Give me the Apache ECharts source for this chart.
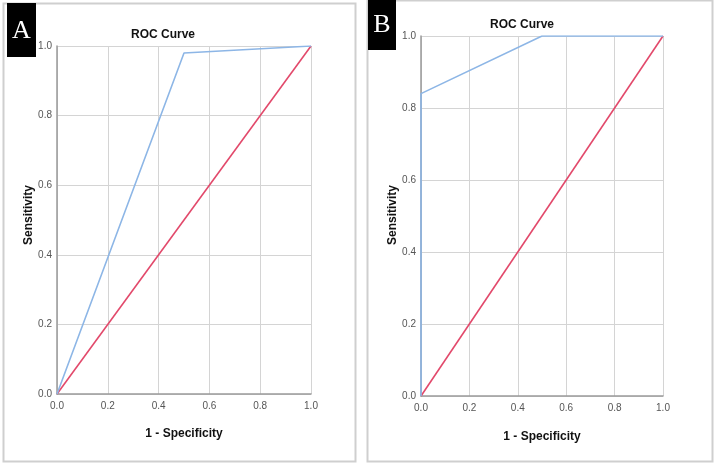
<!DOCTYPE html>
<html><head><meta charset="utf-8">
<script src="https://cdn.jsdelivr.net/npm/echarts@6/dist/echarts.min.js"></script>
<style>html,body{margin:0;padding:0;background:#fff}#c{width:715px;height:466px}</style>
</head><body><div id="c"></div>
<script>
const ticks = [0, 0.2, 0.4, 0.6, 0.8, 1.0];
const fprA = [0, 0.5, 1];
const tprA = [0, 0.98, 1];
const fprB = [0, 0, 0.5, 1];
const tprB = [0, 0.84, 1, 1];
const refX = [0, 1];
const refY = [0, 1];
const titleText = 'ROC Curve';
const xName = '1 - Specificity';
const yName = 'Sensitivity';
const panelLabels = ['A', 'B'];

const zip = (a, b) => a.map((v, i) => [v, b[i]]);
const chart = echarts.init(document.getElementById('c'), null, {renderer: 'canvas'});

function xAx(gi) {
  return {type: 'value', gridIndex: gi, min: 0, max: 1, interval: 0.2,
    axisLine: {show: true, lineStyle: {color: '#9a9a9a', width: 1.5}},
    axisTick: {show: false},
    axisLabel: {color: '#555', fontSize: 10, fontFamily: 'Liberation Sans', margin: 7, formatter: v => v.toFixed(1)},
    splitLine: {show: true, lineStyle: {color: '#d4d4d4', width: 1}}};
}
function yAx(gi) {
  return {type: 'value', gridIndex: gi, min: 0, max: 1, interval: 0.2,
    axisLine: {show: true, lineStyle: {color: '#9a9a9a', width: 1.5}},
    axisTick: {show: false},
    axisLabel: {color: '#555', fontSize: 10, fontFamily: 'Liberation Sans', margin: 5, formatter: v => v.toFixed(1)},
    splitLine: {show: true, lineStyle: {color: '#d4d4d4', width: 1}}};
}
const blue = '#8db6e6', red = '#e2496b';
function line(gi, data, color) {
  return {type: 'line', xAxisIndex: gi, yAxisIndex: gi, data, symbol: 'none', silent: true,
    lineStyle: {color, width: 1.6}, animation: false};
}
const bold = {fontFamily: 'Liberation Sans', fontWeight: 'bold', fontSize: 12, fill: '#111'};

chart.setOption({
  animation: false,
  grid: [
    {left: 57, top: 46, width: 254, height: 348},
    {left: 421, top: 36, width: 242, height: 360}
  ],
  xAxis: [xAx(0), xAx(1)],
  yAxis: [yAx(0), yAx(1)],
  series: [
    line(0, zip(refX, refY), red),
    line(0, zip(fprA, tprA), blue),
    line(1, zip(refX, refY), red),
    line(1, zip(fprB, tprB), blue)
  ],
  graphic: [
    {type: 'rect', z: -10, shape: {x: 3.5, y: 3.5, width: 352, height: 458}, style: {fill: '#fff', stroke: '#cfcfcf', lineWidth: 2}},
    {type: 'rect', z: -10, shape: {x: 367.5, y: 0.5, width: 345, height: 461}, style: {fill: '#fff', stroke: '#cfcfcf', lineWidth: 2}},
    {type: 'rect', shape: {x: 7, y: 3, width: 29, height: 54}, style: {fill: '#000'}},
    {type: 'rect', shape: {x: 368, y: 0, width: 28, height: 50}, style: {fill: '#000'}},
    {type: 'text', x: 21.5, y: 31, style: {text: panelLabels[0], fill: '#fff', fontFamily: 'Liberation Serif', fontSize: 26, align: 'center', verticalAlign: 'middle'}},
    {type: 'text', x: 382, y: 25, style: {text: panelLabels[1], fill: '#fff', fontFamily: 'Liberation Serif', fontSize: 26, align: 'center', verticalAlign: 'middle'}},
    {type: 'text', x: 163, y: 35, style: Object.assign({text: titleText, align: 'center', verticalAlign: 'middle'}, bold)},
    {type: 'text', x: 522, y: 25, style: Object.assign({text: titleText, align: 'center', verticalAlign: 'middle'}, bold)},
    {type: 'text', x: 184, y: 434, style: Object.assign({text: xName, align: 'center', verticalAlign: 'middle'}, bold)},
    {type: 'text', x: 542, y: 437, style: Object.assign({text: xName, align: 'center', verticalAlign: 'middle'}, bold)},
    {type: 'text', x: 29, y: 215, rotation: Math.PI / 2, style: Object.assign({text: yName, align: 'center', verticalAlign: 'middle'}, bold)},
    {type: 'text', x: 393, y: 215, rotation: Math.PI / 2, style: Object.assign({text: yName, align: 'center', verticalAlign: 'middle'}, bold)}
  ]
});
</script></body></html>
